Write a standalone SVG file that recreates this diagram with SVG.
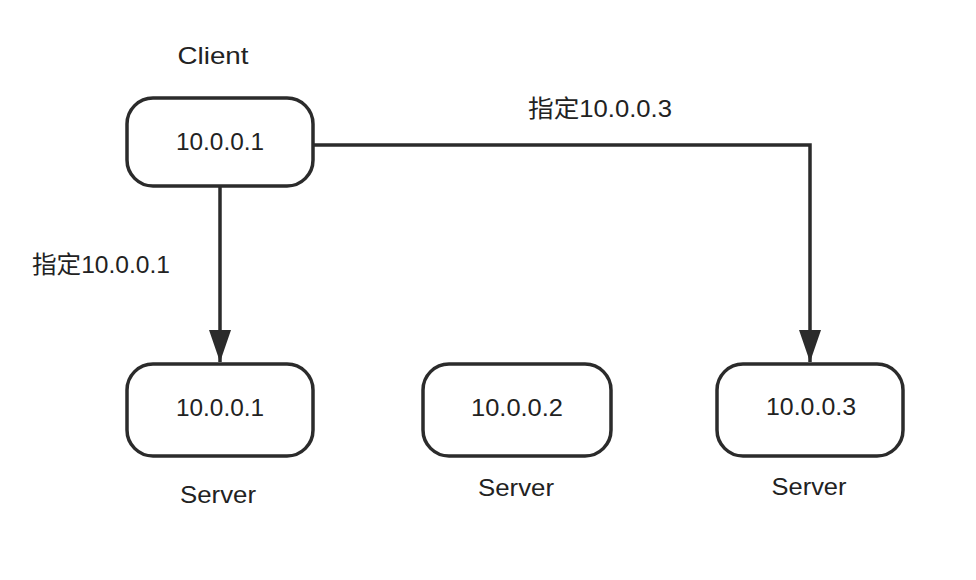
<svg xmlns="http://www.w3.org/2000/svg" width="976" height="580" viewBox="0 0 976 580">
<style>
.box{fill:#fff;stroke:#2b2b2b;stroke-width:3.5}
.t{font-family:"Liberation Sans","Noto Sans CJK SC",sans-serif;font-size:24px;fill:#222;text-anchor:middle}
.lbl{font-family:"Liberation Sans","Noto Sans CJK SC",sans-serif;font-size:24px;fill:#222}
.edge{fill:none;stroke:#2b2b2b;stroke-width:3.5}
</style>
<defs>
<marker id="arr" markerUnits="userSpaceOnUse" markerWidth="34" markerHeight="24" refX="32" refY="11" orient="auto">
<path d="M0,0 L32,11 L0,22 z" fill="#2b2b2b"/>
</marker>
</defs>
<rect width="976" height="580" fill="#fff"/>
<g id="connectors">
<path class="edge" d="M220,187 L220,362" marker-end="url(#arr)"/>
<path class="edge" d="M314,145 L810,145 L810,362" marker-end="url(#arr)"/>
<text class="lbl" x="528" y="117" textLength="144" lengthAdjust="spacingAndGlyphs">指定10.0.0.3</text>
<text class="lbl" x="32" y="273" textLength="138" lengthAdjust="spacingAndGlyphs">指定10.0.0.1</text>
</g>
<g id="client">
<text class="t" x="213" y="64" textLength="71" lengthAdjust="spacingAndGlyphs">Client</text>
<rect class="box" x="127" y="98" width="186" height="88" rx="26"/>
<text class="t" x="220" y="150" textLength="88" lengthAdjust="spacingAndGlyphs">10.0.0.1</text>
</g>
<g id="server1">
<rect class="box" x="127" y="364" width="186" height="92" rx="26"/>
<text class="t" x="220" y="416" textLength="88" lengthAdjust="spacingAndGlyphs">10.0.0.1</text>
<text class="t" x="218" y="503" textLength="76" lengthAdjust="spacingAndGlyphs">Server</text>
</g>
<g id="server2">
<rect class="box" x="423" y="364" width="188" height="92" rx="26"/>
<text class="t" x="517" y="416" textLength="92" lengthAdjust="spacingAndGlyphs">10.0.0.2</text>
<text class="t" x="516" y="496" textLength="76" lengthAdjust="spacingAndGlyphs">Server</text>
</g>
<g id="server3">
<rect class="box" x="717" y="364" width="186" height="92" rx="26"/>
<text class="t" x="811" y="415" textLength="90" lengthAdjust="spacingAndGlyphs">10.0.0.3</text>
<text class="t" x="809" y="495" textLength="75" lengthAdjust="spacingAndGlyphs">Server</text>
</g>
</svg>
